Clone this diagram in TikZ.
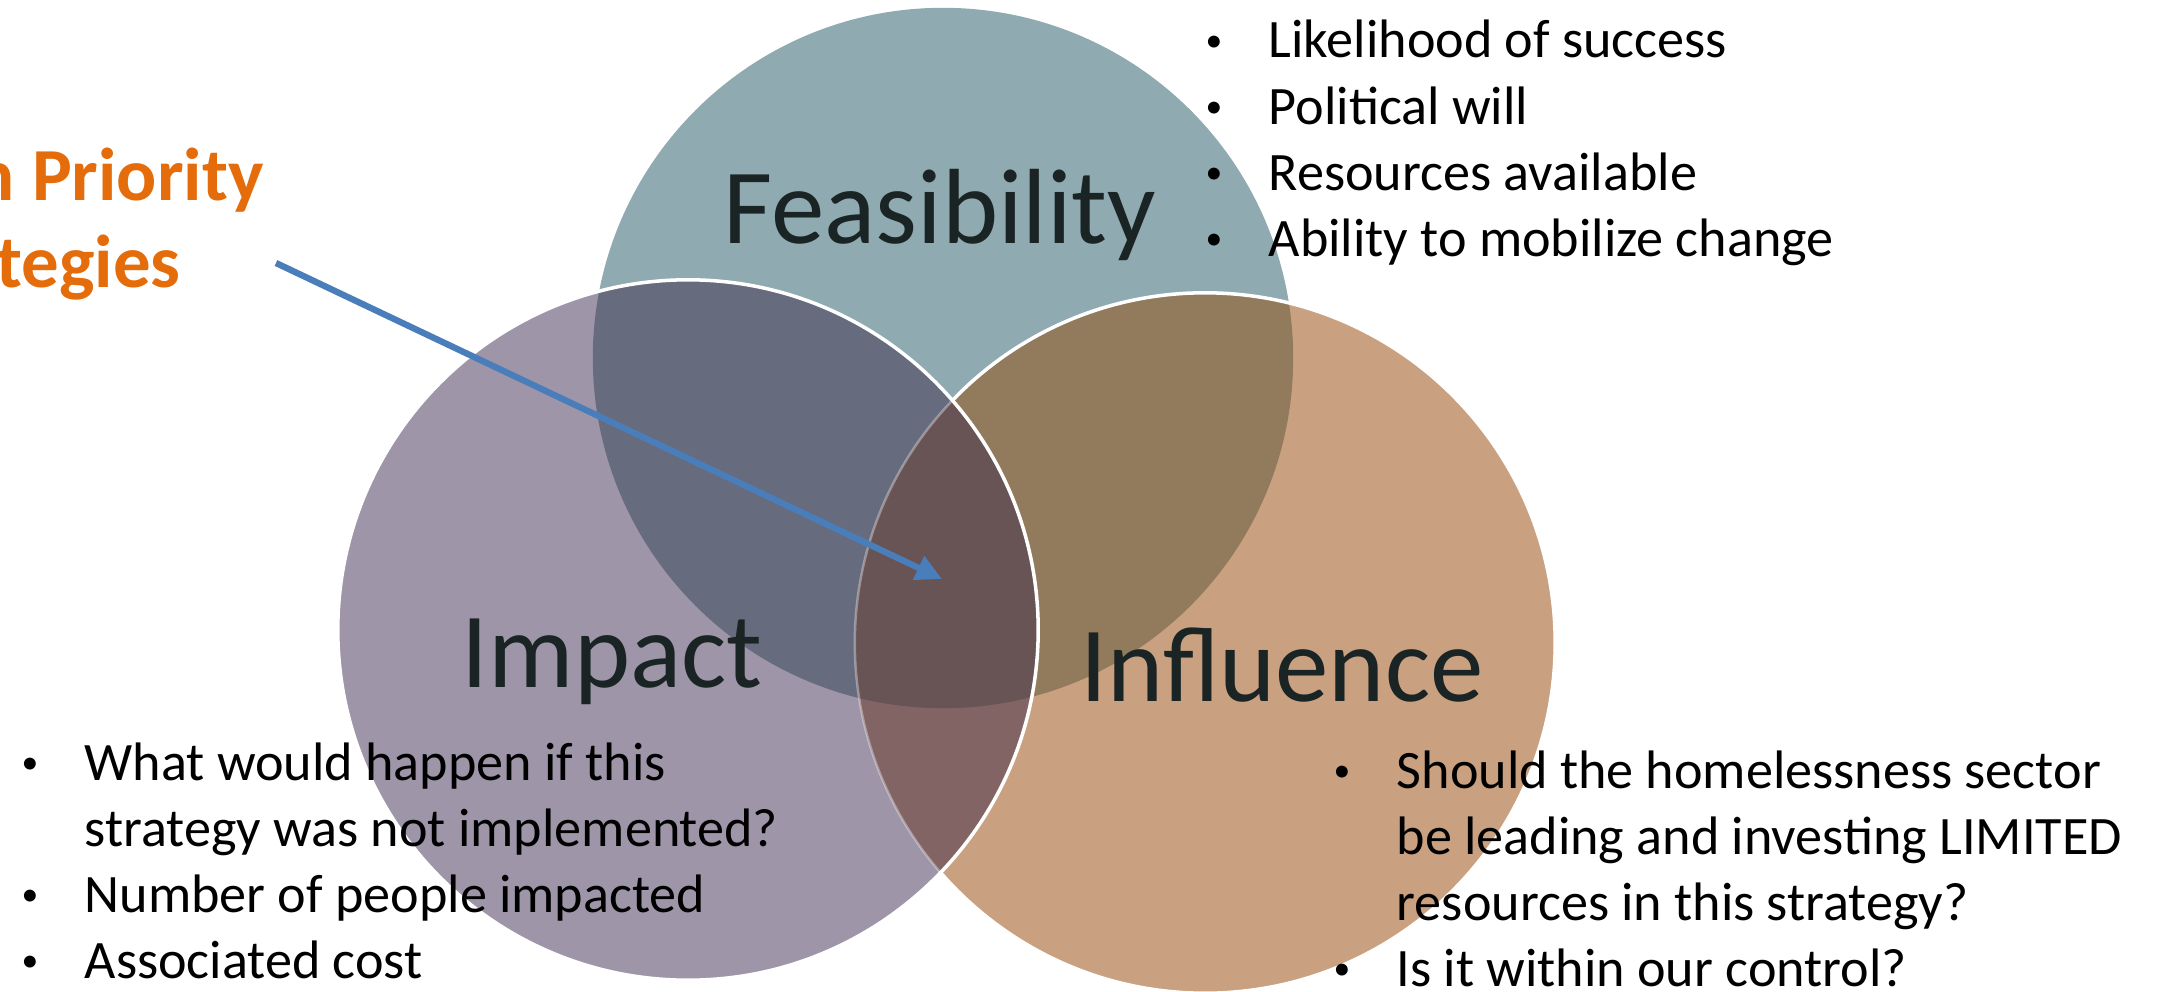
\documentclass[tikz,border=0pt]{standalone}
\usepackage{fontspec}
\setmainfont{Carlito}
\usetikzlibrary{arrows.meta}
\definecolor{feas}{HTML}{8FAAB0}
\definecolor{imp}{HTML}{9E96A8}
\definecolor{infl}{HTML}{C9A181}
\definecolor{impfeas}{HTML}{666B7E}
\definecolor{feasinfl}{HTML}{927A5C}
\definecolor{impinfl}{HTML}{836465}
\definecolor{allthree}{HTML}{685355}
\definecolor{labelcol}{HTML}{1A2424}
\definecolor{prio}{HTML}{E46C0A}
\definecolor{arrowblue}{HTML}{4A7EBB}
\newcommand{\bul}{\makebox[0.68cm][l]{\hspace{0.05cm}\raisebox{0.12em}{\scalebox{0.62}{\textbullet}}}}
\tikzset{
  biglabel/.style={anchor=base, inner sep=0pt, text=labelcol, font=\fontsize{30.4}{36}\selectfont},
  listtext/.style={anchor=base west, inner sep=0pt, text=black, font=\fontsize{15.4}{18.78}\selectfont},
  priotext/.style={anchor=base west, inner sep=0pt, text=prio, font=\bfseries\fontsize{21.3}{24.75}\selectfont},
  outline/.style={draw=white, line width=1pt},
  pointer/.style={draw=arrowblue, line width=1.8pt, -{Triangle[length=0.26cm,width=0.25cm]}}
}
\begin{document}
\begin{tikzpicture}[x=0.01cm,y=-0.01cm]
\useasboundingbox (0,0) rectangle (2167,991);
\begin{scope}
\clip (0,0) rectangle (2167,991);
\coordinate (F) at (943,358);
\coordinate (I) at (688,630);
\coordinate (N) at (1205,643);
% base circles
\fill[feas] (F) circle[radius=3.5cm];
\fill[infl] (N) circle[radius=3.5cm];
\begin{scope}
  \clip (F) circle[radius=3.5cm];
  \fill[feasinfl] (N) circle[radius=3.5cm];
\end{scope}
\draw[outline] (N) circle[radius=3.5cm];
\fill[imp] (I) circle[radius=3.5cm];
\begin{scope}
  \clip (I) circle[radius=3.5cm];
  \fill[impfeas] (F) circle[radius=3.5cm];
  \fill[impinfl] (N) circle[radius=3.5cm];
  \clip (F) circle[radius=3.5cm];
  \fill[allthree] (N) circle[radius=3.5cm];
\end{scope}
\begin{scope}
  \clip (I) circle[radius=3.5cm];
  \draw[white, opacity=0.35, line width=0.7pt] (N) circle[radius=3.5cm];
\end{scope}
\draw[outline] (I) circle[radius=3.5cm];

% labels
\node[biglabel] (feaslabel) at (940,243) {Feasibility};
\node[biglabel] (implabel) at (612,687) {Impact};
\node[biglabel] (infllabel) at (1282,701) {Influence};

% priority text (partly outside the picture, as in the reference)
\node[priotext] (prio) at (-127,200) {\begin{tabular}[t]{@{}l@{}}High Priority\\Strategies\end{tabular}};

% arrow
\coordinate (arrowstart) at (276,263);
\coordinate (arrowend) at (942,579);
\draw[pointer] (arrowstart) -- (arrowend);

% lists
\node[listtext] (feaslist) at (1200,58) {\begin{tabular}[t]{@{}l@{}l@{}}
\bul & Likelihood of success\\
\bul & Political will\\
\bul & Resources available\\
\bul & Ability to mobilize change
\end{tabular}};
\node[listtext] (implist) at (16,780) {\begin{tabular}[t]{@{}l@{}l@{}}
\bul & What would happen if this\\
 & strategy was not implemented?\\
\bul & Number of people impacted\\
\bul & Associated cost
\end{tabular}};
\node[listtext] (infllist) at (1328,788) {\begin{tabular}[t]{@{}l@{}l@{}}
\bul & Should the homelessness sector\\
 & be leading and investing LIMITED\\
 & resources in this strategy?\\
\bul & Is it within our control?
\end{tabular}};
\end{scope}
\end{tikzpicture}
\end{document}
